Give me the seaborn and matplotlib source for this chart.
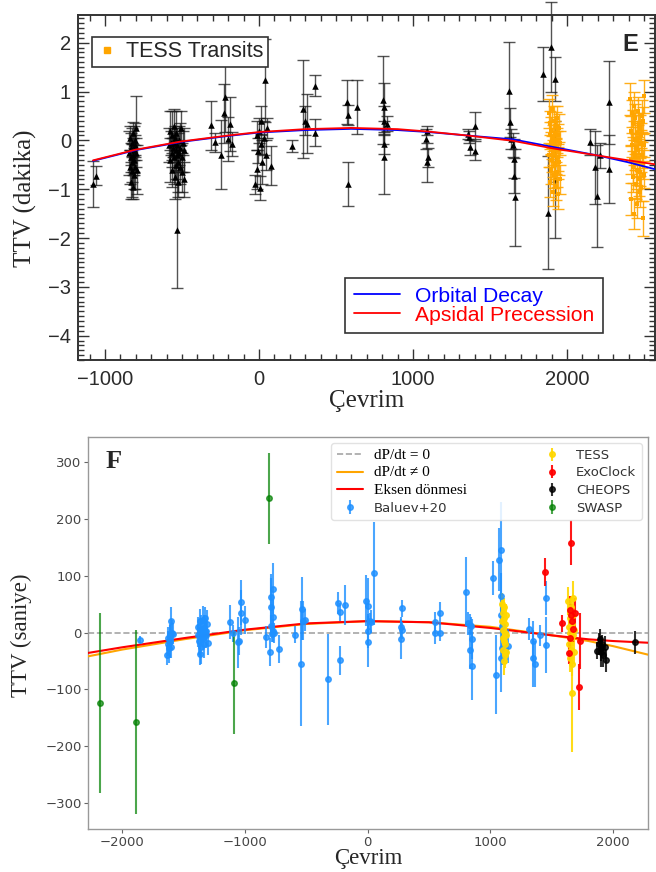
import numpy as np
import pandas as pd
import matplotlib
matplotlib.use("Agg")
from matplotlib import pyplot as plt
from matplotlib.ticker import MultipleLocator
from matplotlib.lines import Line2D
import seaborn as sns

# ---------------- panel E : TTV in minutes ----------------
e_black_epoch = [-1078, -1056,
                 -842, -838, -835, -832, -830, -828, -826, -824, -822, -820, -818, -816, -814, -812, -810, -808, -806, -804, -800, -796, -792,
                 -585, -580, -576, -572, -568, -565, -562, -558, -555, -552, -550, -547, -545, -542, -540, -537, -534, -532, -531, -528, -525, -522, -519, -513, -510, -506, -502, -498, -494, -490, -486,
                 -312, -288, -246, -230, -223, -200, -190, -178,
                 -25, -15, -10, -5, 0, 5, 10, 15, 20, 30, 37, 45, 55, 80,
                 212, 288, 300, 310, 364, 364, 569, 580, 634, 580,
                 807, 815, 812, 830, 810, 815,
                 1089, 1085, 1097, 1092,
                 1359, 1365, 1403, 1370, 1403,
                 1625, 1630, 1640, 1655, 1650, 1655, 1662,
                 1846, 1894, 1880, 1922, 1925,
                 2150, 2185, 2195, 2214, 2275, 2275]
e_black_ttv = [-0.90, -0.72,
               -0.25, -0.55, 0.05, -0.35, -0.85, -0.15, -0.62, -0.05, -0.45, 0.15, -0.30, -0.95, -0.20, -0.70, -0.40, 0.00, -0.10, -0.55, -0.25, 0.25, -0.60,
               -0.10, 0.20, -0.40, -0.05, -0.25, 0.10, -0.60, -0.15, 0.30, -0.35, -0.05, -0.75, 0.05, -0.20, -0.50, 0.15, -0.30, -1.83, -0.10, -0.85, -0.45, 0.00, -0.25, -0.55, -0.15, 0.25, -0.65, -0.35, -0.05, -0.80, -0.20,
               0.31, -0.04, -0.29, 0.55, 0.88, 0.02, 0.34, -0.08,
               -0.90, 0.10, -0.59, -0.21, 0.20, -0.97, 0.40, -0.07, -0.45, 0.05, 1.23, -0.30, 0.25, -0.52,
               -0.11, 0.64, 0.40, 0.34, 1.12, 0.16, 0.78, 0.52, 0.69, -0.90,
               0.82, 0.68, 0.40, 0.34, -0.07, -0.35,
               0.20, 0.03, -0.35, -0.45,
               0.13, 0.07, 0.30, -0.14, -0.21,
               1.02, 0.37, 0.03, -0.38, -0.10, -0.72, -1.17,
               1.36, 1.91, -1.48, 1.26, -0.80,
               -0.04, -0.55, -1.14, -0.31, 0.78, -0.59]
e_black_err = [0.47, 0.20,
               0.45, 0.35, 0.25, 0.30, 0.35, 0.30, 0.55, 0.30, 0.40, 0.22, 0.35, 0.25, 0.50, 0.30, 0.25, 0.35, 0.20, 0.45, 0.30, 0.65, 0.50,
               0.35, 0.40, 0.45, 0.25, 0.30, 0.50, 0.35, 0.20, 0.35, 0.55, 0.30, 0.45, 0.25, 0.40, 0.30, 0.45, 0.25, 1.20, 0.35, 0.30, 0.60, 0.30, 0.25, 0.35, 0.50, 0.35, 0.40, 0.30, 0.25, 0.35, 0.45,
               0.50, 0.20, 0.70, 0.60, 0.70, 0.45, 0.55, 0.25,
               0.20, 0.30, 0.40, 0.25, 0.25, 0.25, 0.30, 0.20, 0.45, 0.35, 0.85, 0.30, 0.20, 0.40,
               0.12, 1.00, 0.30, 0.60, 0.21, 0.27, 0.45, 0.20, 0.55, 0.45,
               0.90, 0.50, 0.30, 0.15, 0.20, 0.75,
               0.10, 0.20, 0.20, 0.40,
               0.10, 0.12, 0.28, 0.15, 0.20,
               1.00, 0.30, 0.20, 0.40, 0.25, 0.35, 1.00,
               0.55, 0.92, 1.16, 0.45, 1.20,
               0.27, 0.75, 1.05, 0.25, 0.85, 0.70]

e_tess_epoch = [1882, 1884, 1887, 1889, 1891, 1894, 1896, 1898, 1901, 1903, 1905, 1908, 1910, 1912, 1915, 1917,
                1919, 1922, 1924, 1926, 1929, 1931, 1933, 1936, 1938, 1940, 1943, 1945, 1947, 1950, 1952, 1954,
                2412, 2414, 2417, 2419, 2421, 2424, 2426, 2428, 2431, 2433, 2435, 2438, 2440, 2442, 2445, 2447,
                2449, 2452, 2454, 2456, 2459, 2461, 2463, 2466, 2468, 2470, 2473, 2475, 2477, 2480, 2482, 2484,
                2487, 2489, 2491, 2494, 2496, 2498, 2501, 2503]
e_tess_ttv = [0.55, -0.30, 0.10, -0.85, 0.35, -0.05, -0.60, 0.20, -0.40, 0.65, -0.15, -1.05, 0.05, -0.25, 0.40, -0.70,
              -0.10, 0.15, -0.50, -0.95, 0.30, -0.20, 0.00, -0.65, 0.45, -0.35, -1.10, 0.10, -0.45, 0.25, -0.80, -0.05,
              0.85, -0.40, 0.20, -1.20, 0.55, -0.10, -0.75, 0.35, -0.55, 0.70, -0.25, -1.50, 0.00, -0.35, 0.45, -0.90,
              -0.15, 0.15, -0.60, -1.30, 0.60, -0.20, 0.05, -0.80, 0.30, -0.45, -1.05, 0.25, -0.65, 0.10, -0.95, -0.05,
              0.50, -0.30, -1.60, 0.40, -0.50, 0.90, -0.70, -0.10]
e_tess_err = [0.30, 0.25, 0.28, 0.30, 0.25, 0.22, 0.30, 0.27, 0.25, 0.28, 0.24, 0.30, 0.26, 0.25, 0.30, 0.28,
              0.22, 0.25, 0.30, 0.27, 0.28, 0.24, 0.26, 0.30, 0.25, 0.28, 0.30, 0.24, 0.26, 0.28, 0.30, 0.25,
              0.33, 0.28, 0.30, 0.32, 0.27, 0.25, 0.30, 0.28, 0.33, 0.30, 0.26, 0.32, 0.28, 0.25, 0.30, 0.30,
              0.27, 0.25, 0.32, 0.30, 0.28, 0.26, 0.30, 0.33, 0.27, 0.30, 0.32, 0.26, 0.28, 0.25, 0.30, 0.27,
              0.32, 0.26, 0.35, 0.28, 0.30, 0.33, 0.27, 0.25]

e_curve_epoch = [-1078, -800, -500, -200, 0, 300, 600, 900, 1100, 1350, 1650, 1900, 2200, 2400, 2571]
e_decay = [-0.42, -0.20, -0.03, 0.09, 0.16, 0.21, 0.235, 0.21, 0.17, 0.10, 0.02, -0.13, -0.31, -0.45, -0.59]
e_precession = [-0.41, -0.19, -0.02, 0.10, 0.17, 0.23, 0.255, 0.23, 0.18, 0.10, -0.01, -0.16, -0.31, -0.41, -0.49]

# ---------------- panel F : TTV in seconds ----------------
f_baluev_epoch = [-1859,
                  -1635, -1630, -1625, -1620, -1615, -1610, -1605, -1600, -1595, -1590,
                  -1385, -1380, -1375, -1370, -1365, -1360, -1355, -1350, -1345, -1340, -1335, -1330, -1325, -1320, -1315, -1310, -1300,
                  -1122, -1100, -1054, -1045, -1035, -1030, -1000,
                  -829, -797, -790, -785, -770, -775, -768, -762, -721, -780, -790,
                  -596, -547, -535, -525, -515,
                  -323, -241, -228, -228, -181,
                  -11, 3, 3, 3, 15, 30, 52,
                  282, 275, 282, 268,
                  545, 548, 593, 593,
                  802, 818, 830, 837, 851, 851, 840,
                  1024, 1046, 1073, 1088, 1087, 1090, 1092, 1090, 1095, 1141,
                  1317, 1344, 1348, 1366, 1404, 1453, 1453]
f_baluev_ttv = [-13,
                -40, -20, -10, -28, -5, -15, 20, -25, 0, -2,
                10, -5, -15, 20, -38, 5, -25, 0, 22, -10, 8, -20, 25, 3, -5, 15, -18,
                18, -1, -17, -15, 53, 35, 22,
                -8, -34, 62, 45, 77, 27, 3, -1, -29, -2, 12,
                -4, -55, 42, 21, 22,
                -82, 52, 36, -49, 48,
                56, 46, 2, -16, 20, 19, 104,
                43, 9, 4, -12,
                18, 0, 34, 0,
                72, 16, 14, -30, -11, -59, 12,
                96, -74, 128, 145, 65, 30, 12, -44, -27, -23,
                6, -45, -15, -55, -5, 61, -22]
f_baluev_err = [6,
                18, 22, 20, 25, 18, 30, 25, 20, 22, 18,
                18, 20, 25, 22, 20, 25, 30, 18, 25, 20, 22, 25, 20, 18, 22, 25, 22,
                30, 15, 45, 25, 40, 40, 25,
                20, 25, 40, 50, 45, 30, 20, 18, 25, 15, 18,
                15, 110, 55, 35, 20,
                80, 20, 15, 25, 35,
                45, 50, 30, 45, 15, 20, 90,
                15, 18, 15, 35,
                18, 20, 20, 15,
                60, 20, 18, 35, 35, 60, 15,
                30, 70, 55, 85, 40, 30, 25, 60, 30, 30,
                20, 50, 35, 40, 18, 30, 50]

f_tess_epoch = [1095, 1098, 1100, 1102, 1104, 1106, 1108, 1110, 1112, 1114, 1116, 1118, 1120, 1122, 1124, 1126, 1128,
                1635, 1640, 1642, 1645, 1648, 1650, 1652, 1655, 1657, 1660, 1662, 1665, 1667, 1670, 1672, 1675, 1678, 1680]
f_tess_ttv = [50, 20, -10, 35, -30, 5, -50, 25, -15, 45, 0, -40, 15, -20, 30, -5, -35,
              55, 10, -20, 35, -45, 0, 25, -30, 45, -10, 15, -107, -55, 30, -5, 60, -35, 5]
f_tess_err = [20, 15, 18, 22, 20, 15, 25, 18, 20, 15, 20, 22, 18, 15, 20, 18, 20,
              25, 20, 22, 18, 25, 20, 22, 18, 20, 25, 18, 104, 22, 20, 18, 30, 20, 22]

f_exo_epoch = [1447, 1580, 1656, 1645, 1660, 1670, 1637, 1665, 1718, 1729, 1650, 1690]
f_exo_ttv = [106, 16, 158, 39, 30, 6, -36, 20, -96, -15, -10, 35]
f_exo_err = [25, 15, 40, 25, 20, 22, 20, 15, 40, 50, 18, 25]

f_cheops_epoch = [1870, 1885, 1895, 1900, 1910, 1920, 1930, 1945, 1905, 2176]
f_cheops_ttv = [-32, -20, -11, -35, -20, -40, -25, -49, -28, -17]
f_cheops_err = [15, 20, 18, 25, 15, 20, 18, 20, 22, 20]

f_swasp_epoch = [-2184, -1886, -1087, -802]
f_swasp_ttv = [-124, -158, -89, 236]
f_swasp_err = [158, 162, 90, 80]

f_curve_epoch = [-2280, -2000, -1500, -1000, -500, 0, 500, 1000, 1500, 1800, 2000, 2285]
f_decay = [-42, -30, -12, 4, 15, 20, 18, 10, -5, -15, -24, -39]
f_precession = [-36, -26, -10, 5, 16, 20, 18, 8, -5, -12, -15, -18]

sns.set_style("white")
plt.rcParams['font.family'] = ['Liberation Sans', 'DejaVu Sans']
SERIF = 'Liberation Serif'

fig = plt.figure(figsize=(6.56, 8.72), dpi=100)
axE = fig.add_axes([0.119, 0.587, 0.879, 0.396])
axF = fig.add_axes([0.134, 0.049, 0.854, 0.450])

# ---- panel E ----
black_e = pd.DataFrame({"epoch": e_black_epoch, "ttv": e_black_ttv, "err": e_black_err})
tess_e = pd.DataFrame({"epoch": e_tess_epoch, "ttv": e_tess_ttv, "err": e_tess_err})
curve_e = pd.DataFrame({"epoch": e_curve_epoch, "decay": e_decay, "prec": e_precession})

eb = axE.errorbar(black_e.epoch, black_e.ttv, yerr=black_e.err, fmt='none', ecolor='#1a1a1a',
                  elinewidth=1.0, capsize=4, capthick=1.0, alpha=0.75, zorder=2)
for art in list(eb.lines[1]) + list(eb.lines[2]):
    art.set_clip_on(False)
sns.scatterplot(data=black_e, x="epoch", y="ttv", marker="^", color="black", s=22,
                linewidth=0, ax=axE, zorder=3, legend=False)

axE.errorbar(tess_e.epoch, tess_e.ttv, yerr=tess_e.err, fmt='none', ecolor='#FFA500',
             elinewidth=1.0, capsize=4, capthick=1.0, alpha=0.9, zorder=3)
sns.scatterplot(data=tess_e, x="epoch", y="ttv", marker="s", color="#FFA500", s=10,
                linewidth=0, ax=axE, zorder=4, legend=False)

sns.lineplot(data=curve_e, x="epoch", y="decay", color="blue", lw=1.3, ax=axE, zorder=5, legend=False)
sns.lineplot(data=curve_e, x="epoch", y="prec", color="red", lw=1.3, ax=axE, zorder=5, legend=False)

axE.set_xlim(-1175, 2570)
axE.set_ylim(-4.5, 2.57)
axE.xaxis.set_major_locator(MultipleLocator(1000))
axE.xaxis.set_minor_locator(MultipleLocator(100))
axE.yaxis.set_major_locator(MultipleLocator(1))
axE.yaxis.set_minor_locator(MultipleLocator(0.1))
axE.tick_params(which='both', direction='in', top=True, right=True, bottom=True, left=True,
                color='#333', width=1.0)
axE.tick_params(which='major', length=8, labelsize=14.5, labelcolor='#2b2b2b')
axE.tick_params(which='minor', length=4)
axE.tick_params(axis='x', which='major', pad=7)
axE.tick_params(axis='y', which='major', pad=5)
for sp in axE.spines.values():
    sp.set_color('#333')
    sp.set_linewidth(1.4)
    sp.set_visible(True)

axE.set_xlabel("Çevrim", family=SERIF, fontsize=18)
axE.set_ylabel("TTV (dakika)", family=SERIF, fontsize=18)
axE.xaxis.set_label_coords(0.50, -0.087)
axE.yaxis.set_label_coords(-0.072, 0.47)
axE.text(0.957, 0.913, "E", transform=axE.transAxes, fontsize=17, fontweight='bold',
         ha='center', va='center')

leg1 = axE.legend([Line2D([], [], ls='none', marker='s', color='#FFA500', ms=5)], ["TESS Transits"],
                  loc='upper left', bbox_to_anchor=(0.024, 0.936), borderaxespad=0, fontsize=15.5,
                  fancybox=False, edgecolor='#333', framealpha=1, handlelength=1.0,
                  handletextpad=0.4, borderpad=0.2)
leg1.get_frame().set_linewidth(1.2)
axE.add_artist(leg1)
leg2 = axE.legend([Line2D([], [], color='blue', lw=1.3), Line2D([], [], color='red', lw=1.3)],
                  ["Orbital Decay", "Apsidal Precession"], labelcolor=['blue', 'red'],
                  loc='lower right', bbox_to_anchor=(0.910, 0.078), borderaxespad=0, fontsize=15.2,
                  fancybox=False, edgecolor='#333', framealpha=1, handlelength=2.2,
                  handletextpad=0.7, labelspacing=0.0, borderpad=0.4)
leg2.get_frame().set_linewidth(1.2)

# ---- panel F ----
curve_f = pd.DataFrame({"epoch": f_curve_epoch, "decay": f_decay, "prec": f_precession})

axF.axhline(0, ls='--', color='gray', lw=1.2, alpha=0.7, zorder=1)
h_bal = axF.errorbar(f_baluev_epoch, f_baluev_ttv, yerr=f_baluev_err, fmt='o', color='#1E90FF',
                     ms=4, elinewidth=1.5, alpha=0.8, zorder=3)
h_tess = axF.errorbar(f_tess_epoch, f_tess_ttv, yerr=f_tess_err, fmt='o', color='gold',
                      ms=4, elinewidth=1.5, alpha=0.9, zorder=3)
h_exo = axF.errorbar(f_exo_epoch, f_exo_ttv, yerr=f_exo_err, fmt='o', color='red',
                     ms=4, elinewidth=1.5, alpha=0.9, zorder=3)
h_che = axF.errorbar(f_cheops_epoch, f_cheops_ttv, yerr=f_cheops_err, fmt='o', color='black',
                     ms=4, elinewidth=1.5, alpha=0.8, zorder=3)
h_swa = axF.errorbar(f_swasp_epoch, f_swasp_ttv, yerr=f_swasp_err, fmt='o', color='green',
                     ms=4, elinewidth=1.5, alpha=0.7, zorder=3)
sns.lineplot(data=curve_f, x="epoch", y="decay", color="orange", lw=1.5, ax=axF, zorder=2.8, legend=False)
sns.lineplot(data=curve_f, x="epoch", y="prec", color="red", lw=1.5, ax=axF, zorder=2.8, legend=False)

axF.set_xlim(-2280, 2285)
axF.set_ylim(-346, 344)
axF.set_xticks([-2000, -1000, 0, 1000, 2000])
axF.set_yticks([-300, -200, -100, 0, 100, 200, 300])
axF.tick_params(which='major', direction='out', length=3, width=0.8, pad=1.5, color='#666',
                labelsize=9.5, labelcolor='#444', bottom=True, left=True)
for lab in axF.get_xticklabels() + axF.get_yticklabels():
    lab.set_family('DejaVu Sans')
for sp in axF.spines.values():
    sp.set_color('#999')
    sp.set_linewidth(1.0)
    sp.set_visible(True)

axF.set_xlabel("Çevrim", family=SERIF, fontsize=16.5)
axF.set_ylabel("TTV (saniye)", family=SERIF, fontsize=16.5)
axF.xaxis.set_label_coords(0.50, -0.049)
axF.yaxis.set_label_coords(-0.100, 0.495)
axF.text(0.045, 0.936, "F", transform=axF.transAxes, fontsize=19, fontweight='bold',
         family=SERIF, ha='center', va='center')

handles = [Line2D([], [], color='gray', ls='--', lw=1.2, alpha=0.7),
           Line2D([], [], color='orange', lw=1.5),
           Line2D([], [], color='red', lw=1.5),
           h_bal, h_tess, h_exo, h_che, h_swa]
labels = ["dP/dt = 0", "dP/dt \u2260 0", "Eksen dönmesi", "Baluev+20",
          "TESS", "ExoClock", "CHEOPS", "SWASP"]
legF = axF.legend(handles, labels, ncol=2, loc='upper right', fontsize=9.5, frameon=True,
                  edgecolor='#ddd', framealpha=0.85, columnspacing=5.5, labelspacing=0.35,
                  handlelength=2.0, borderaxespad=0.5)
for i, t in enumerate(legF.get_texts()):
    if i < 3:
        t.set_family(SERIF)
        t.set_fontsize(11)
        t.set_color('black')
    else:
        t.set_family('DejaVu Sans')
        t.set_color('#333')

fig.savefig("out.png", dpi=100)
